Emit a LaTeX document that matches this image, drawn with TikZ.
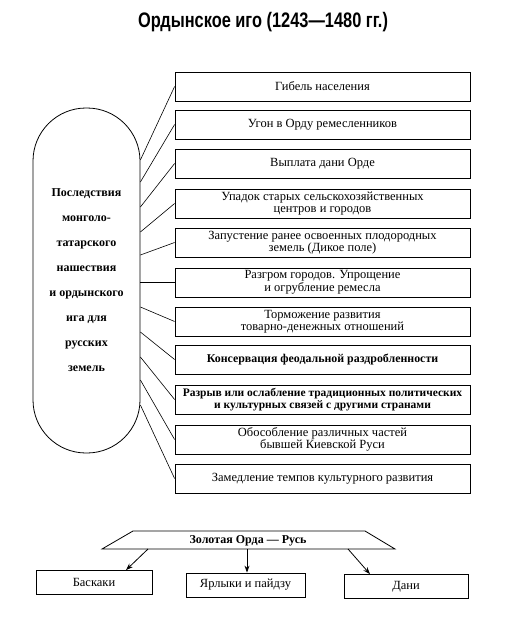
\documentclass[tikz,border=0pt]{standalone}
\usepackage{fontspec}
\setmainfont{Liberation Serif}
\newfontfamily\titlefont[FakeStretch=0.78]{Liberation Sans}
\usepackage{tikz}
\usetikzlibrary{arrows.meta,positioning,calc}

\begin{document}
\begin{tikzpicture}[
  x=1pt, y=-1pt,
  cons/.style={draw, line width=0.8pt, minimum width=295pt, minimum height=29pt,
               align=center, inner sep=1pt, font=\fontsize{12.5}{12.5}\selectfont},
  small/.style={draw, line width=0.8pt, minimum height=24pt, inner sep=1pt,
               font=\fontsize{12.5}{12.5}\selectfont},
  link/.style={line width=0.6pt},
  arr/.style={-{Stealth[length=7pt, width=5pt]}, line width=0.8pt}
]
\useasboundingbox (0,0) rectangle (516,623);

% title
\node[font=\titlefont\bfseries\fontsize{21}{22}\selectfont] (title) at (263,22) {Ордынское иго (1243—1480 гг.)};

% left capsule
\node[draw, line width=0.8pt, rounded corners=53pt, minimum width=107pt, minimum height=345pt,
      align=center, font=\bfseries\fontsize{12}{25}\selectfont] (cap) at (86.5,280.5)
  {Последствия\\монголо-\\татарского\\нашествия\\и ордынского\\ига для\\русских\\земель};

% consequences
\node[cons] (c1)  at (322.5,86.5)  {Гибель населения};
\node[cons] (c2)  at (322.5,124.5) {Угон в Орду ремесленников};
\node[cons] (c3)  at (322.5,163.5) {Выплата дани Орде};
\node[cons] (c4)  at (322.5,203.5) {Упадок старых сельскохозяйственных\\центров и городов};
\node[cons] (c5)  at (322.5,242.5) {Запустение ранее освоенных плодородных\\земель (Дикое поле)};
\node[cons] (c6)  at (322.5,282.5) {Разгром городов. Упрощение\\и огрубление ремесла};
\node[cons] (c7)  at (322.5,321.5) {Торможение развития\\товарно-денежных отношений};
\node[cons, font=\bfseries\fontsize{11.9}{12.5}\selectfont] (c8)  at (322.5,359.5) {Консервация феодальной раздробленности};
\node[cons, font=\bfseries\fontsize{11.5}{12.5}\selectfont] (c9)  at (322.5,399.5) {Разрыв или ослабление традиционных политических\\и культурных связей с другими странами};
\node[cons] (c10) at (322.5,439.5) {Обособление различных частей\\бывшей Киевской Руси};
\node[cons] (c11) at (322.5,478.5) {Замедление темпов культурного развития};

% links from capsule
\foreach \i/\yy in {1/160,2/182,3/207,4/232,5/255,6/282.5,7/307,8/332,9/357,10/380,11/405}
  \draw[link] (cap.east |- 0,\yy) -- (c\i.west);

% Golden Horde -- Rus
\draw[line width=0.8pt] (133,531) -- (365,531) -- (395,549) -- (102,549) -- cycle;
\node[font=\bfseries\fontsize{12}{12.5}\selectfont] (horde) at (248,540.5) {Золотая Орда — Русь};
\coordinate (h1) at (148,549);
\coordinate (h2) at (247,549);
\coordinate (h3) at (348,549);

\node[small, minimum width=116pt] (bask) at (94,582.5)  {Баскаки};
\node[small, minimum width=119pt] (yarl) at (245.5,585) {Ярлыки и пайдзу};
\node[small, minimum width=124pt] (dani) at (406,586.5) {Дани};

\draw[arr] (h1) -- (bask.north -| 126,0);
\draw[arr] (h2) -- (yarl.north -| h2);
\draw[arr] (h3) -- (dani.north -| 370,0);
\end{tikzpicture}
\end{document}
